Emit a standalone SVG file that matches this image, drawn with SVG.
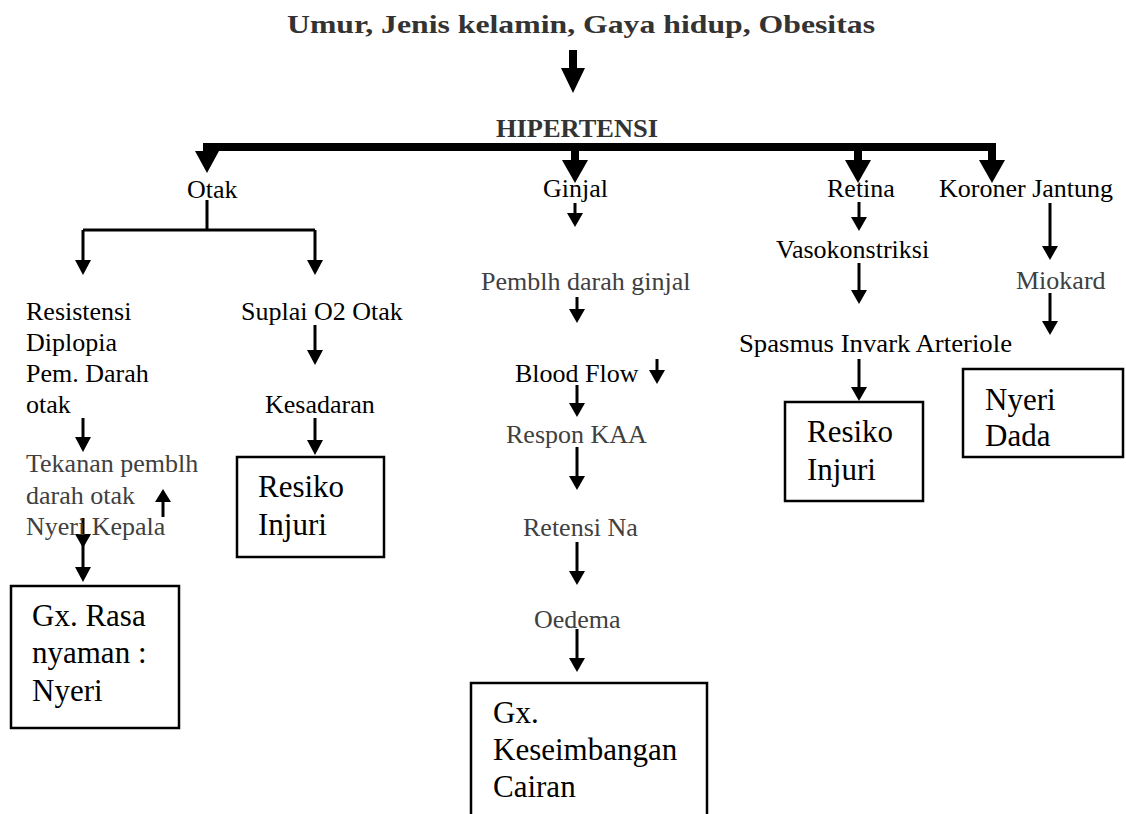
<svg xmlns="http://www.w3.org/2000/svg" width="1126" height="814" viewBox="0 0 1126 814">
<style>
text{font-family:"Liberation Serif","Times New Roman",serif;font-size:26px;fill:#000}
.g{fill:#404040}
.b{font-weight:bold;fill:#333}
.bx{font-size:31px}
.box{fill:#fff;stroke:#000;stroke-width:2.5}
.sh{stroke:#000;stroke-width:3;fill:none}
.hd{fill:#000}
</style>
<rect width="1126" height="814" fill="#fff"/>
<g id="connectors">
  <rect x="569" y="50" width="8" height="20" fill="#000"/>
  <polygon class="hd" points="561,68 585,68 573,93"/>
  <rect x="203" y="143" width="793" height="8" fill="#000"/>
  <polygon class="hd" points="195,151 219,151 207,173"/>
  <rect x="571" y="150" width="8" height="11" fill="#000"/>
  <polygon class="hd" points="562,160 588,160 575,183"/>
  <rect x="854" y="150" width="8" height="11" fill="#000"/>
  <polygon class="hd" points="845,160 871,160 858,183"/>
  <rect x="988" y="143" width="8" height="18" fill="#000"/>
  <polygon class="hd" points="979,160 1005,160 992,183"/>
  <path class="sh" d="M207,200 V230 M83,230 H315 M83,230 V262 M315,230 V262"/>
  <polygon class="hd" points="75,260 91,260 83,275"/>
  <polygon class="hd" points="307,260 323,260 315,275"/>
  <path class="sh" d="M315,325 V352"/>
  <polygon class="hd" points="307,350 323,350 315,365"/>
  <path class="sh" d="M315,418 V442"/>
  <polygon class="hd" points="307,440 323,440 315,455"/>
  <path class="sh" d="M83,418 V439"/>
  <polygon class="hd" points="75,437 91,437 83,452"/>
  <path class="sh" d="M163,517 V500"/>
  <polygon class="hd" points="155,502 171,502 163,489"/>
  <path class="sh" d="M83,518 V569"/>
  <polygon class="hd" points="75,534 91,534 83,548"/>
  <polygon class="hd" points="75,567 91,567 83,582"/>
  <path class="sh" d="M575,203 V215"/>
  <polygon class="hd" points="567,213 583,213 575,227"/>
  <path class="sh" d="M577,297 V311"/>
  <polygon class="hd" points="569,309 585,309 577,323"/>
  <path class="sh" d="M657,359 V372"/>
  <polygon class="hd" points="649,370 665,370 657,384"/>
  <path class="sh" d="M577,385 V405"/>
  <polygon class="hd" points="569,403 585,403 577,417"/>
  <path class="sh" d="M577,447 V478"/>
  <polygon class="hd" points="569,476 585,476 577,490"/>
  <path class="sh" d="M577,542 V573"/>
  <polygon class="hd" points="569,571 585,571 577,585"/>
  <path class="sh" d="M577,629 V660"/>
  <polygon class="hd" points="569,658 585,658 577,672"/>
  <path class="sh" d="M859,202 V219"/>
  <polygon class="hd" points="851,217 867,217 859,231"/>
  <path class="sh" d="M859,263 V292"/>
  <polygon class="hd" points="851,290 867,290 859,304"/>
  <path class="sh" d="M859,359 V389"/>
  <polygon class="hd" points="851,387 867,387 859,401"/>
  <path class="sh" d="M1050,203 V248"/>
  <polygon class="hd" points="1042,246 1058,246 1050,260"/>
  <path class="sh" d="M1050,293 V323"/>
  <polygon class="hd" points="1042,321 1058,321 1050,335"/>
</g>
<g id="n-title"><text class="b" x="287" y="33" font-size="32" textLength="588" lengthAdjust="spacingAndGlyphs">Umur, Jenis kelamin, Gaya hidup, Obesitas</text></g>
<g id="n-hipertensi"><text class="b" x="496" y="137" font-size="27" textLength="162" lengthAdjust="spacingAndGlyphs">HIPERTENSI</text></g>
<g id="n-otak"><text x="187" y="198">Otak</text></g>
<g id="n-ginjal"><text x="543" y="197">Ginjal</text></g>
<g id="n-retina"><text x="827" y="197">Retina</text></g>
<g id="n-koroner"><text x="939" y="197">Koroner Jantung</text></g>
<g id="n-resistensi"><text x="26" y="320">Resistensi</text><text x="26" y="351">Diplopia</text><text x="26" y="382">Pem. Darah</text><text x="26" y="413">otak</text></g>
<g id="n-suplai"><text x="241" y="320">Suplai O2 Otak</text></g>
<g id="n-kesadaran"><text x="265" y="413">Kesadaran</text></g>
<g id="n-tekanan"><text class="g" x="26" y="472">Tekanan pemblh</text><text class="g" x="26" y="504">darah otak</text><text class="g" x="26" y="535">Nyeri Kepala</text></g>
<g id="n-rasa"><rect class="box" x="11" y="586" width="168" height="142"/><text class="bx" x="32" y="626">Gx. Rasa</text><text class="bx" x="32" y="663">nyaman :</text><text class="bx" x="32" y="701">Nyeri</text></g>
<g id="n-resiko1"><rect class="box" x="237" y="457" width="147" height="100"/><text class="bx" x="258" y="497">Resiko</text><text class="bx" x="258" y="535">Injuri</text></g>
<g id="n-pemblh"><text class="g" x="481" y="290">Pemblh darah ginjal</text></g>
<g id="n-blood"><text x="515" y="382">Blood Flow</text></g>
<g id="n-respon"><text class="g" x="506" y="443">Respon KAA</text></g>
<g id="n-retensi"><text class="g" x="523" y="536">Retensi Na</text></g>
<g id="n-oedema"><text class="g" x="534" y="628">Oedema</text></g>
<g id="n-keseimbangan"><rect class="box" x="471" y="683" width="236" height="145"/><text class="bx" x="493" y="723">Gx.</text><text class="bx" x="493" y="760">Keseimbangan</text><text class="bx" x="493" y="797">Cairan</text></g>
<g id="n-vaso"><text x="776" y="258">Vasokonstriksi</text></g>
<g id="n-spasmus"><text x="739" y="352" textLength="273" lengthAdjust="spacingAndGlyphs">Spasmus Invark Arteriole</text></g>
<g id="n-resiko2"><rect class="box" x="785" y="402" width="138" height="99"/><text class="bx" x="807" y="442">Resiko</text><text class="bx" x="807" y="480">Injuri</text></g>
<g id="n-miokard"><text class="g" x="1016" y="289">Miokard</text></g>
<g id="n-nyeri"><rect class="box" x="963" y="369" width="160" height="88"/><text class="bx" x="985" y="410">Nyeri</text><text class="bx" x="985" y="446">Dada</text></g>
</svg>
